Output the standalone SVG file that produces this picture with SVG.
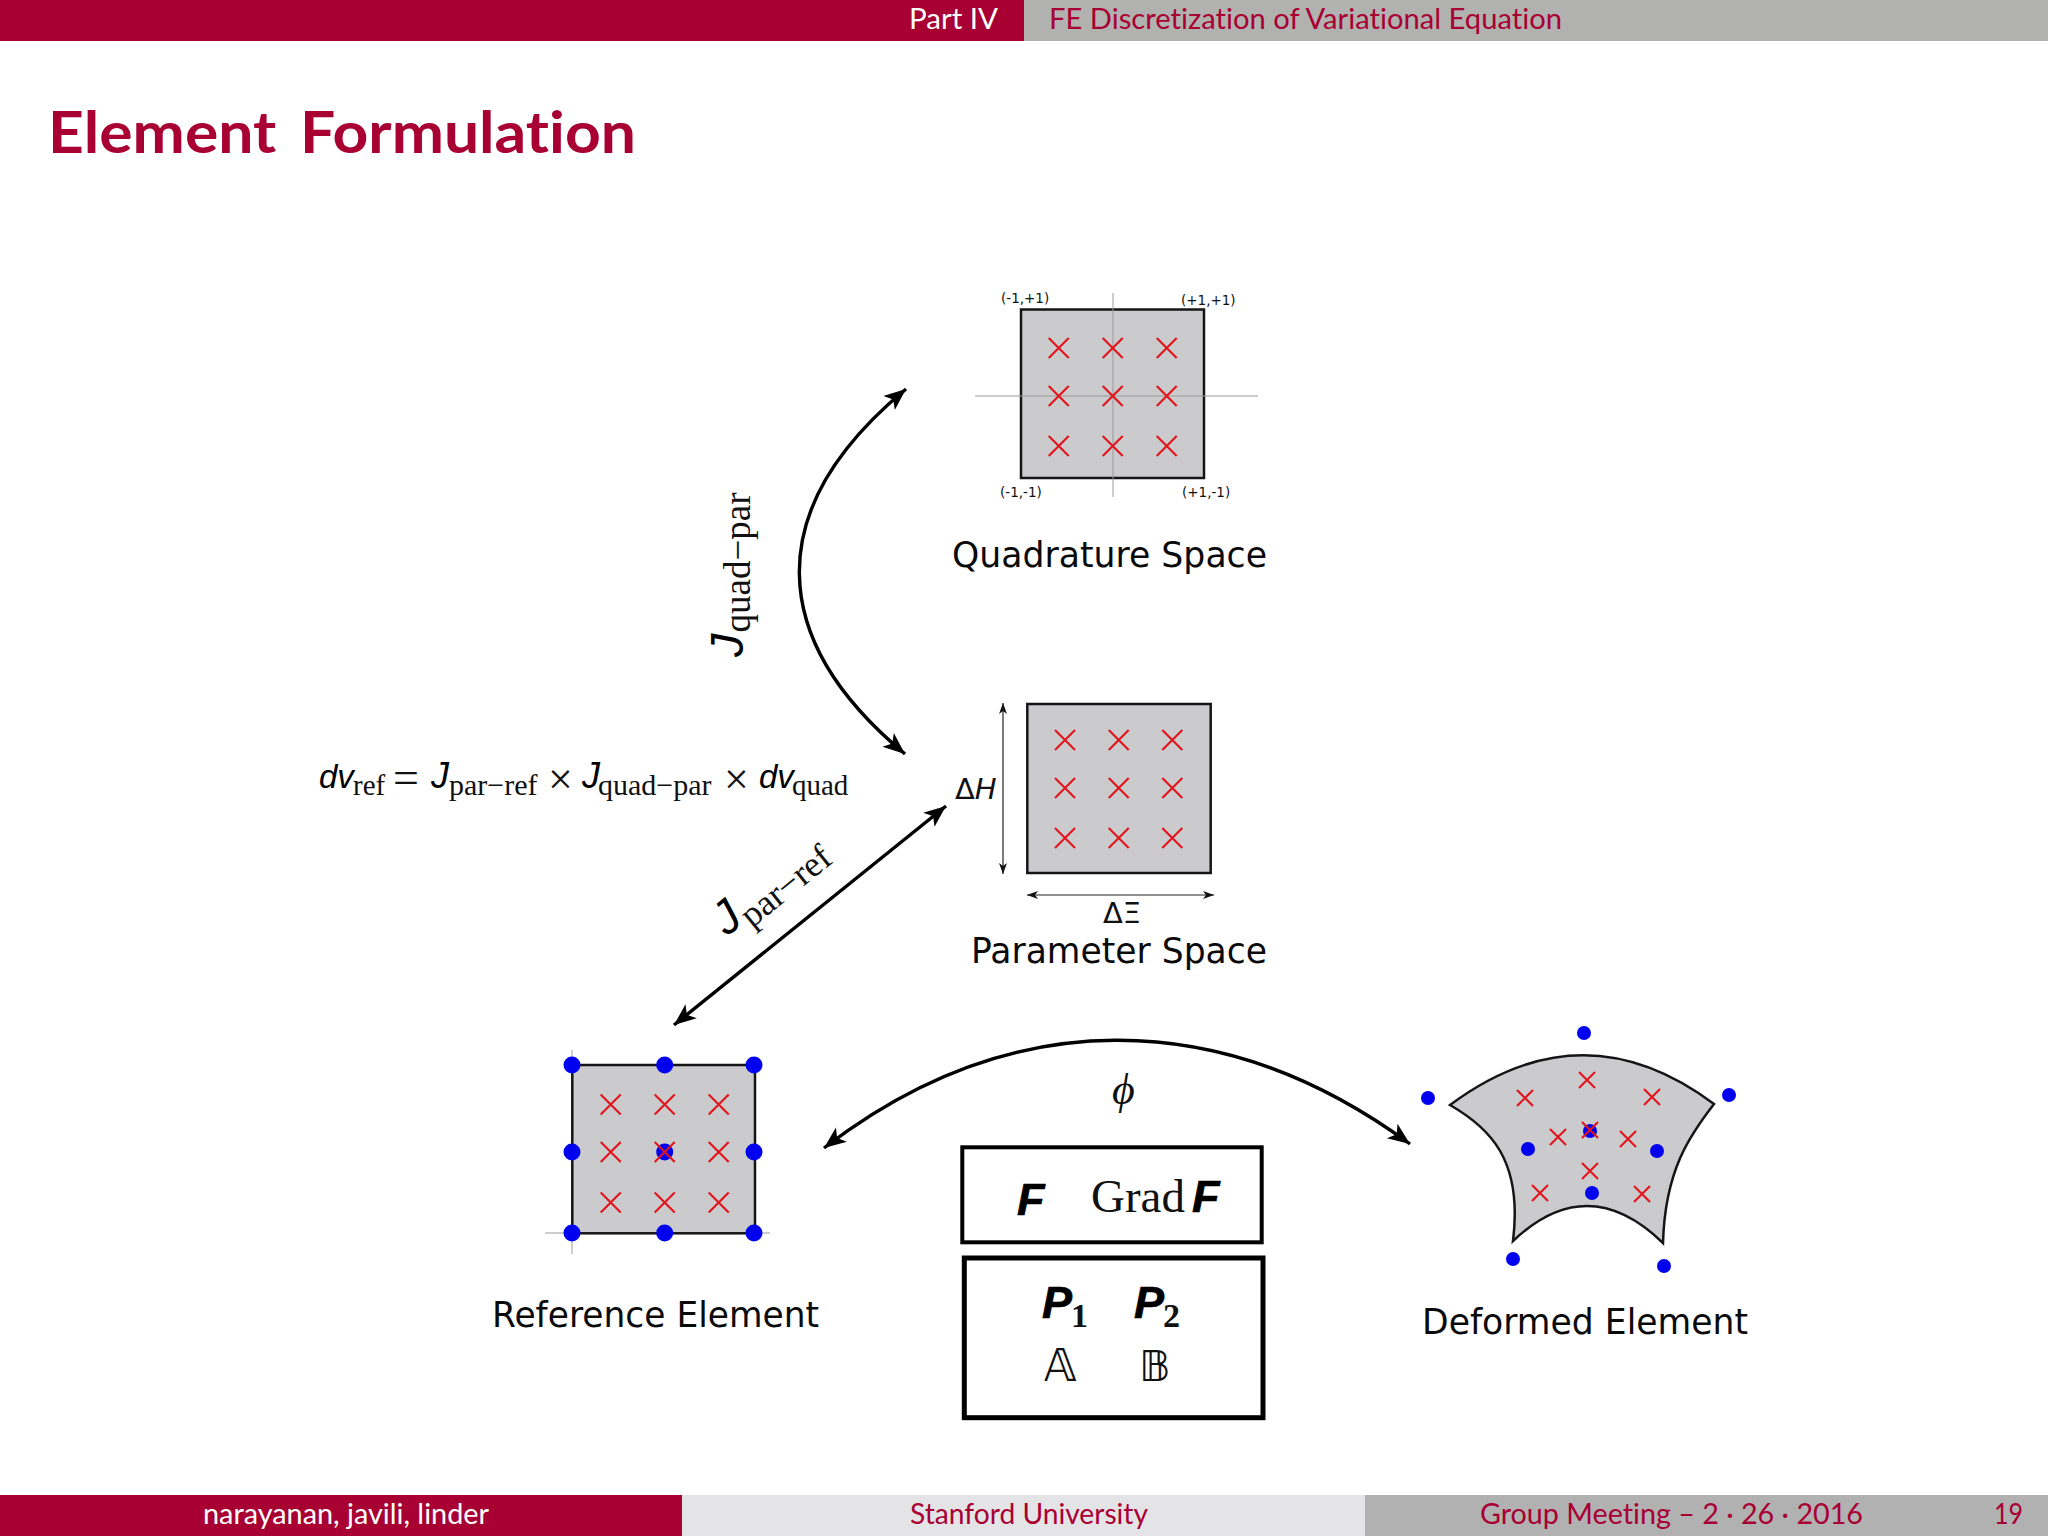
<svg xmlns="http://www.w3.org/2000/svg" width="2048" height="1536" viewBox="0 0 2048 1536">
<style>
text{font-variant-ligatures:none}
.slide{font-family:"Lato","Open Sans","Liberation Sans",sans-serif;font-size:28px}
.red{fill:#a80033}
.wh{fill:#fff}
.lab{font-family:"DejaVu Sans",sans-serif;font-size:35px;fill:#0a0a0a}
.cor{font-family:"DejaVu Sans",sans-serif;font-size:13.5px;fill:#111}
.dim{font-family:"DejaVu Sans",sans-serif;font-size:29px;fill:#111}
.el{fill:#cbcacc;stroke:#151515;stroke-width:2.5}
.cross{stroke:#e3141c;stroke-width:2.1;fill:none}
.dot{fill:#0000f0}
.axis{stroke:#9a9a9a;stroke-width:1;fill:none}
.arrow{stroke:#000;stroke-width:3.4;fill:none;marker-start:url(#stealth);marker-end:url(#stealth)}
.thin{stroke:#222;stroke-width:1.2;fill:none;marker-start:url(#small);marker-end:url(#small)}
.box{fill:#fff;stroke:#000}
.m{font-family:"Liberation Sans",sans-serif;font-style:italic;fill:#000}
.s{font-family:"Liberation Serif",serif;fill:#111;font-style:normal}
.b{font-family:"Liberation Sans",sans-serif;font-style:italic;font-weight:700;font-size:45px;fill:#000;stroke:#000;stroke-width:.7}
</style>
<defs>
<marker id="stealth" markerUnits="userSpaceOnUse" markerWidth="26" markerHeight="22" refX="22" refY="11" orient="auto-start-reverse"><path d="M22 11L0 2L5.5 11L0 20Z" fill="#000"/></marker>
<marker id="small" markerUnits="userSpaceOnUse" markerWidth="12" markerHeight="10" refX="11" refY="5" orient="auto-start-reverse"><path d="M11 5L0 1L3 5L0 9Z" fill="#111"/></marker>
<path id="x" class="cross" d="M-10-10L10 10M-10 10L10-10"/>
<path id="xs" class="cross" d="M-8-8L8 8M-8 8L8-8"/>
</defs>
<rect width="2048" height="1536" fill="#fff"/>
<g id="header">
<rect width="1024" height="41" fill="#a80033"/>
<rect x="1024" width="1024" height="41" fill="#b1b2af"/>
<text class="slide wh" x="909" y="29" textLength="89" lengthAdjust="spacingAndGlyphs">Part IV</text>
<text class="slide red" x="1049" y="29" textLength="513" lengthAdjust="spacingAndGlyphs">FE Discretization of Variational Equation</text>
</g>
<text id="title" class="red" x="48" y="153" font-family="Lato,'Open Sans',sans-serif" font-weight="700" font-size="58" word-spacing="8" textLength="588" lengthAdjust="spacingAndGlyphs">Element Formulation</text>
<g id="footer">
<rect y="1495" width="682" height="41" fill="#a80033"/>
<rect x="682" y="1495" width="683" height="41" fill="#e4e4e6"/>
<rect x="1365" y="1495" width="683" height="41" fill="#b1b1b2"/>
<text class="slide wh" x="203" y="1524" textLength="286" lengthAdjust="spacingAndGlyphs">narayanan, javili, linder</text>
<text class="slide red" x="910" y="1524" textLength="238" lengthAdjust="spacingAndGlyphs">Stanford University</text>
<text class="slide red" x="1480" y="1524" textLength="383" lengthAdjust="spacingAndGlyphs">Group Meeting – 2 · 26 · 2016</text>
<text class="slide red" x="1994" y="1524" textLength="29" lengthAdjust="spacingAndGlyphs">19</text>
</g>
<g id="quadrature-space">
<rect class="el" x="1021" y="309.5" width="183" height="168.5"/>
<path class="axis" d="M1113 293V497M975 396H1258"/>
<use href="#x" x="1058.7" y="348"/><use href="#x" x="1112.7" y="348"/><use href="#x" x="1166.7" y="348"/>
<use href="#x" x="1058.7" y="396"/><use href="#x" x="1112.7" y="396"/><use href="#x" x="1166.7" y="396"/>
<use href="#x" x="1058.7" y="446"/><use href="#x" x="1112.7" y="446"/><use href="#x" x="1166.7" y="446"/>
<text class="cor" x="1001" y="302.5">(-1,+1)</text>
<text class="cor" x="1181" y="305">(+1,+1)</text>
<text class="cor" x="1000" y="497">(-1,-1)</text>
<text class="cor" x="1182" y="497">(+1,-1)</text>
<text class="lab" x="952" y="567" textLength="315" lengthAdjust="spacingAndGlyphs">Quadrature Space</text>
</g>
<g id="parameter-space">
<rect class="el" x="1027.3" y="704" width="183.4" height="169"/>
<use href="#x" x="1065" y="740"/><use href="#x" x="1118.7" y="740"/><use href="#x" x="1172.3" y="740"/>
<use href="#x" x="1065" y="788"/><use href="#x" x="1118.7" y="788"/><use href="#x" x="1172.3" y="788"/>
<use href="#x" x="1065" y="838"/><use href="#x" x="1118.7" y="838"/><use href="#x" x="1172.3" y="838"/>
<path class="thin" d="M1003 703V874"/>
<path class="thin" d="M1027 895H1214"/>
<text class="dim" x="955" y="799">Δ<tspan font-style="italic">H</tspan></text>
<text class="dim" x="1103" y="923">ΔΞ</text>
<text class="lab" x="971" y="963" textLength="296" lengthAdjust="spacingAndGlyphs">Parameter Space</text>
</g>
<g id="reference-element">
<path class="axis" d="M572 1050V1254M545 1233H770"/>
<rect class="el" x="572.3" y="1065" width="182.7" height="168.3"/>
<g class="dot">
<circle cx="572" cy="1065" r="8.5"/><circle cx="664.7" cy="1065" r="8.5"/><circle cx="754" cy="1065" r="8.5"/>
<circle cx="572" cy="1152" r="8.5"/><circle cx="664.7" cy="1152" r="8.5"/><circle cx="754" cy="1152" r="8.5"/>
<circle cx="572" cy="1233" r="8.5"/><circle cx="664.7" cy="1233" r="8.5"/><circle cx="754" cy="1233" r="8.5"/>
</g>
<use href="#x" x="610.7" y="1104.5"/><use href="#x" x="664.7" y="1104.5"/><use href="#x" x="718.7" y="1104.5"/>
<use href="#x" x="610.7" y="1152"/><use href="#x" x="664.7" y="1152"/><use href="#x" x="718.7" y="1152"/>
<use href="#x" x="610.7" y="1202.5"/><use href="#x" x="664.7" y="1202.5"/><use href="#x" x="718.7" y="1202.5"/>
<text class="lab" x="492" y="1327" textLength="327" lengthAdjust="spacingAndGlyphs">Reference Element</text>
</g>
<g id="deformed-element">
<path class="el" stroke-width="2" d="M1450 1105Q1583 1006 1714 1104C1690 1135 1665 1170 1663 1243Q1588 1170 1513 1241C1523 1160 1490 1128 1450 1105Z"/>
<g class="dot">
<circle cx="1584" cy="1033" r="7"/><circle cx="1428" cy="1098" r="7"/><circle cx="1729" cy="1095" r="7"/>
<circle cx="1528" cy="1149" r="7"/><circle cx="1590" cy="1131" r="7"/><circle cx="1657" cy="1151" r="7"/>
<circle cx="1592" cy="1193" r="7"/><circle cx="1513" cy="1259" r="7"/><circle cx="1664" cy="1266" r="7"/>
</g>
<use href="#xs" x="1525" y="1098"/><use href="#xs" x="1587" y="1080"/><use href="#xs" x="1652" y="1097"/>
<use href="#xs" x="1558" y="1137"/><use href="#xs" x="1590" y="1130"/><use href="#xs" x="1628" y="1139"/>
<use href="#xs" x="1590" y="1171"/><use href="#xs" x="1540" y="1193"/><use href="#xs" x="1642" y="1194"/>
<text class="lab" x="1422" y="1334" textLength="326" lengthAdjust="spacingAndGlyphs">Deformed Element</text>
</g>
<g id="connectors">
<path class="arrow" d="M906 389C760 510 768 640 905 754"/>
<path class="arrow" d="M946 806L674 1025"/>
<path class="arrow" d="M824 1148C1010 1005 1220 1005 1410 1144"/>
</g>
<g id="equation">
<text font-size="33" y="788" class="m"><tspan x="319">dv</tspan><tspan class="s" x="353" y="795" font-size="29">ref</tspan><tspan class="s" x="393" y="793" font-size="46">=</tspan><tspan x="431" y="788" font-size="36">J</tspan><tspan class="s" x="449" y="795" font-size="30">par−ref</tspan><tspan class="s" x="548" y="794" font-size="44">×</tspan><tspan x="582" y="788" font-size="36">J</tspan><tspan class="s" x="598" y="795" font-size="30">quad−par</tspan><tspan class="s" x="724" y="794" font-size="44">×</tspan><tspan x="759" y="788">dv</tspan><tspan class="s" x="792" y="795" font-size="29">quad</tspan></text>
</g>
<g id="label-quad-par"><text transform="translate(743 657) rotate(-90)" class="m" font-size="47">J<tspan class="s" dx="1" dy="7" font-size="37">quad−par</tspan></text></g>
<g id="label-par-ref"><text transform="translate(727 937) rotate(-39)" class="m" font-size="47">J<tspan class="s" dx="1" dy="9" font-size="36">par−ref</tspan></text></g>
<g id="label-phi"><text x="1112" y="1104" font-family="'Liberation Serif','DejaVu Serif',serif" font-style="italic" font-size="44" fill="#111">ϕ</text></g>
<g id="box-f">
<rect class="box" stroke-width="4" x="962.3" y="1147.3" width="299.4" height="95"/>
<text class="b" x="1017" y="1215">F</text>
<text class="s" x="1091" y="1212" font-size="47">Grad</text>
<text class="b" x="1192" y="1212">F</text>
</g>
<g id="box-p">
<rect class="box" stroke-width="5" x="964.3" y="1258" width="298.7" height="159.7"/>
<text class="b" x="1042" y="1318">P</text><text class="s" x="1071" y="1327" font-size="34" font-weight="700">1</text>
<text class="b" x="1134" y="1318">P</text><text class="s" x="1163" y="1327" font-size="34" font-weight="700">2</text>
<text x="1044" y="1381" font-family="'DejaVu Sans',sans-serif" font-size="44" fill="#111">𝔸</text>
<text x="1139" y="1381" font-family="'DejaVu Sans',sans-serif" font-size="43" fill="#111">𝔹</text>
</g>
</svg>
